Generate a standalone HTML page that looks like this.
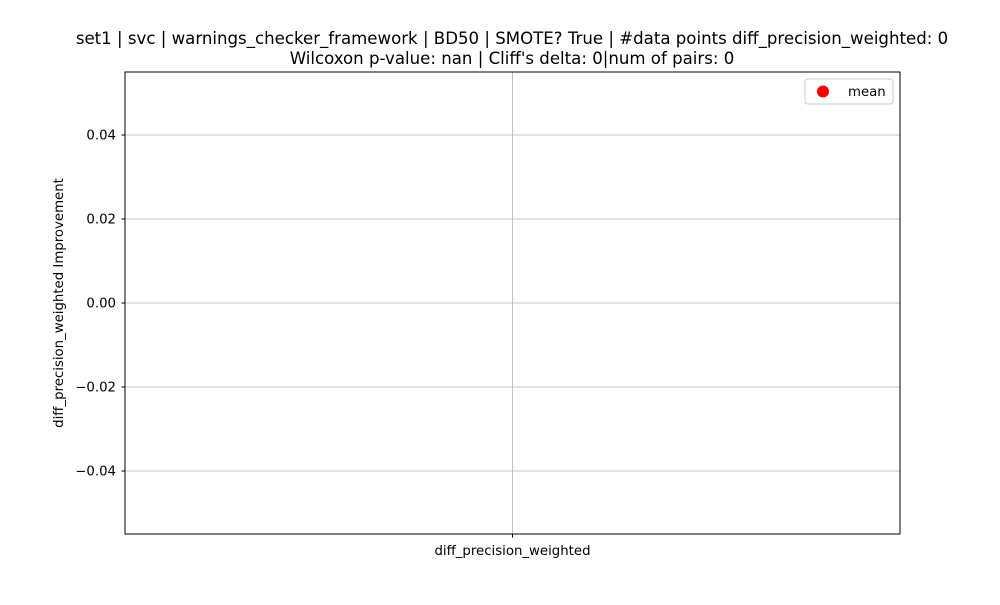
<!DOCTYPE html>
<html><head><meta charset="utf-8"><style>
body{margin:0;background:#fff;}
svg text{font-family:"DejaVu Sans","Liberation Sans",sans-serif;}
</style></head><body>
<svg id="chart" width="1000" height="600" xmlns="http://www.w3.org/2000/svg">
<rect width="1000" height="600" fill="#fff"/>
<text x="512" y="44" text-anchor="middle" font-size="16.6">set1 | svc | warnings_checker_framework | BD50 | SMOTE? True | #data points diff_precision_weighted: 0</text>
<text x="512" y="64" text-anchor="middle" font-size="16.6">Wilcoxon p-value: nan | Cliff's delta: 0|num of pairs: 0</text>
<g id="grid"></g>
<g id="marks"></g>
<rect x="125" y="72" width="775" height="462" fill="none" stroke="#000" stroke-width="1"/>
<g id="yticks"></g>
<g id="xticks"></g>
<text transform="translate(63,303) rotate(-90)" text-anchor="middle" font-size="13.3">diff_precision_weighted Improvement</text>
<g>
<rect x="805" y="79" width="88" height="25" rx="3" fill="#fff" stroke="#ccc"/>
<circle cx="823" cy="91.5" r="6" fill="red"/>
<text x="848" y="96" font-size="13.3">mean</text>
</g>
</svg>
<script>
const categories = ["diff_precision_weighted"];
const meanValues = [];
const yTickValues = [0.04, 0.02, 0.00, -0.02, -0.04];
const yTickLabels = ["0.04", "0.02", "0.00", "−0.02", "−0.04"];
const yMin = -0.055, yMax = 0.055;
const L = 125, R = 900, T = 72, B = 534;
function yScale(v){ return B - (v - yMin) / (yMax - yMin) * (B - T); }
function xScale(i){ return L + (R - L) * (i + 0.5) / categories.length; }
const NS = "http://www.w3.org/2000/svg";
const grid = document.getElementById('grid');
const yt = document.getElementById('yticks');
const xt = document.getElementById('xticks');
const marks = document.getElementById('marks');
function mk(tag, attrs, parent){ const e = document.createElementNS(NS, tag); for (const k in attrs) e.setAttribute(k, attrs[k]); parent.appendChild(e); return e; }
yTickValues.forEach((v, i) => {
  const y = yScale(v);
  const g = mk('line', {x1: L, x2: R, y1: y, y2: y, stroke: '#b0b0b0', 'stroke-width': 0.8}, grid);
  
  
  mk('line', {x1: L - 3.5, x2: L, y1: y, y2: y, stroke: '#000'}, yt);
  const t = mk('text', {x: L - 9, y: y + 4.5, 'text-anchor': 'end', 'font-size': 13.3}, yt);
  t.textContent = yTickLabels[i];
  
  
});
categories.forEach((c, i) => {
  const x = xScale(i);
  const g = mk('line', {x1: x, x2: x, y1: T, y2: B, stroke: '#b0b0b0', 'stroke-width': 0.8}, grid);
  
  
  mk('line', {x1: x, x2: x, y1: B, y2: B + 3.5, stroke: '#000'}, xt);
  const t = mk('text', {x: x, y: B + 21, 'text-anchor': 'middle', 'font-size': 13.3}, xt);
  t.textContent = c;
  
  
});
meanValues.forEach((v, i) => {
  const p = mk('circle', {cx: xScale(i), cy: yScale(v), r: 6, fill: 'red'}, marks);
  
  
});
</script>
</body></html>
